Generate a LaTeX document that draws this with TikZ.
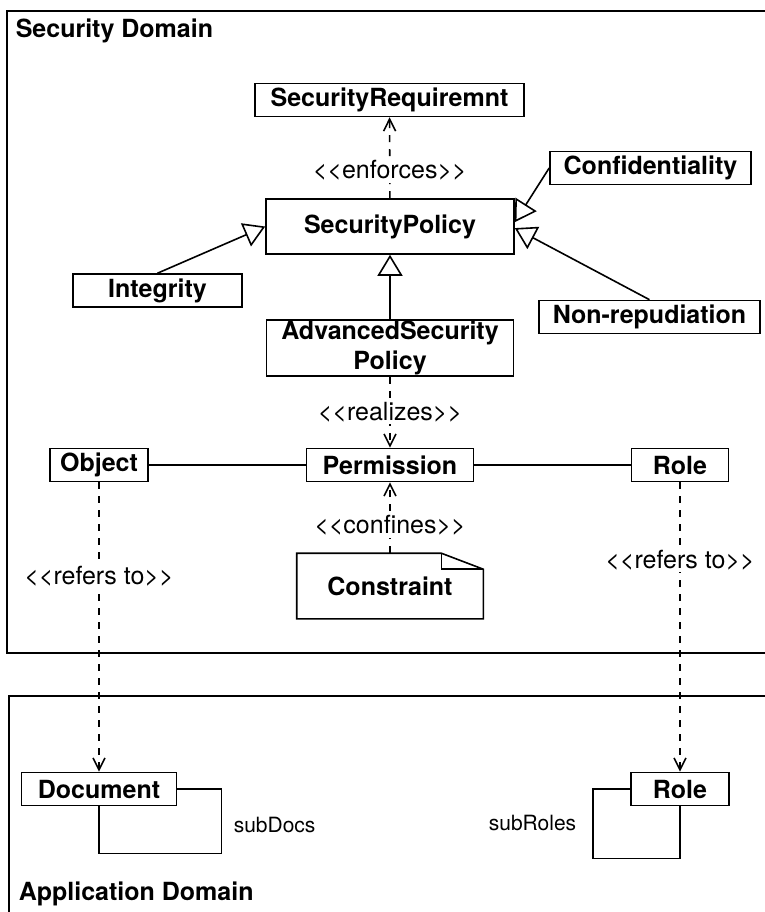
\documentclass[tikz,border=0pt]{standalone}
\usepackage{fontspec}
\setmainfont{TeX Gyre Heros}[Ligatures=TeXOff]
\usetikzlibrary{arrows.meta}
\begin{document}
\begin{tikzpicture}[x=.5pt,y=-.5pt,line width=.8pt,
  cls/.style={draw,font=\fontsize{12.5}{15}\selectfont\bfseries,inner sep=0pt,minimum height=16.5pt,align=center},
  lbl/.style={font=\fontsize{12.5}{15}\selectfont,fill=white,inner sep=1pt},
  small/.style={font=\fontsize{10.5}{12}\selectfont,inner sep=0pt},
  gen/.style={-{Triangle[open,length=10.5pt,width=12.5pt]}},
  dep/.style={dash pattern=on 3.5pt off 3.5pt,-{Straight Barb[length=6pt,width=6pt]}}]
  \useasboundingbox (0,0) rectangle (765,912);
  % domains
  \draw (765,11)--(7,11)--(7,653)--(765,653); \draw (765,696)--(9,696)--(9,912);
  \node[anchor=base west,font=\fontsize{12.5}{15}\selectfont\bfseries,inner sep=0pt] (secdom) at (15,37) {Security Domain};
  \node[anchor=base west,font=\fontsize{12.5}{15}\selectfont\bfseries,inner sep=0pt] (appdom) at (18,900) {Application Domain};
  % security domain
  \node[cls,minimum width=134.5pt] (req) at (389.5,100) {SecurityRequiremnt};
  \node[cls,minimum width=124pt,minimum height=27.5pt] (pol) at (390,226.5) {SecurityPolicy};
  \node[cls,minimum width=84.5pt] (integ) at (157.5,290.5) {Integrity};
  \node[cls,minimum width=100.5pt] (conf) at (650.5,168) {Confidentiality};
  \node[cls,minimum width=110.5pt] (nonrep) at (649.5,317) {Non-repudiation};
  \node[cls,minimum width=123.5pt,minimum height=28pt] (adv) at (390,348) {AdvancedSecurity\\Policy};
  \node[cls,minimum width=49pt] (obj) at (99,465) {Object};
  \node[cls,minimum width=83.5pt] (perm) at (390,465) {Permission};
  \node[cls,minimum width=48.5pt] (role) at (680,465) {Role};
  \node[font=\fontsize{12.5}{15}\selectfont\bfseries,inner sep=0pt,minimum width=92.5pt,minimum height=32pt] (cons) at (390,586) {Constraint};
  \draw (cons.north west)--([xshift=-21pt]cons.north east)--([yshift=-8pt]cons.north east)--(cons.south east)--(cons.south west)--cycle;
  \draw ([xshift=-21pt]cons.north east)--([xshift=-21pt,yshift=-8pt]cons.north east)--([yshift=-8pt]cons.north east);
  \draw[dep] (pol)--node[lbl,pos=.34] {<<enforces>>} (req);
  \draw[gen] (adv)--(pol); \draw[gen] (integ.north)--(pol.west);
  \draw[gen] (conf.west)--([yshift=2.2pt]pol.east); \draw[gen] (nonrep.north)--([yshift=-.8pt]pol.east);
  \draw[dep] (adv)--node[lbl] {<<realizes>>} (perm);
  \draw[dep] (cons)--node[lbl,pos=.39] {<<confines>>} (perm);
  \draw (obj)--(perm); \draw (perm)--(role);
  % application domain
  \node[cls,minimum width=77.5pt] (doc) at (99,789) {Document};
  \node[cls,minimum width=49pt] (approle) at (680,789) {Role};
  \draw[dep] (obj)--node[lbl,pos=.326] {<<refers to>>} (doc);
  \draw[dep] (role)--node[lbl,pos=.268] {<<refers to>>} (approle);
  \draw (doc.east)--++(44,0) |- ([yshift=-23.5pt]doc.south)--(doc.south);
  \draw (approle.west)--++(-37,0) |- ([yshift=-26pt]approle.south)--(approle.south);
  \node[small,anchor=west] (subdocs) at (233,825) {subDocs}; \node[small,anchor=east] (subroles) at (577,823) {subRoles};
\end{tikzpicture}
\end{document}
